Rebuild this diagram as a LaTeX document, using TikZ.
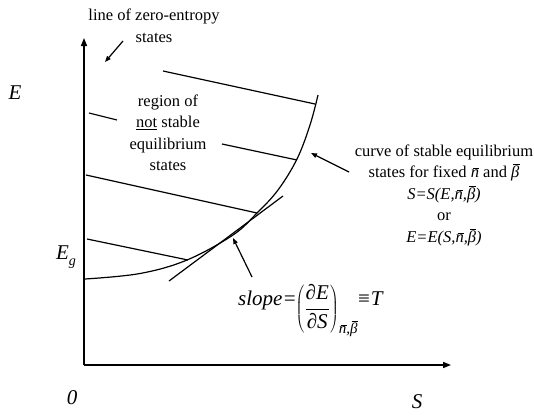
\documentclass[tikz,border=0pt]{standalone}
\usepackage{fontspec}
\setmainfont{Liberation Serif}
\usetikzlibrary{arrows.meta}
\newcommand\ob[1]{\setbox0\hbox{#1}\rlap{\kern0.12em\raisebox{\dimexpr\ht0+0.9pt\relax}{\rule{\dimexpr\wd0-0.1em\relax}{0.7pt}}}\box0}
\tikzset{
  txt/.style={font=\fontsize{16.5}{21.5}\selectfont, align=center, inner sep=0pt},
  lbl/.style={font=\fontsize{21}{24}\selectfont\itshape, inner sep=0pt},
  sline/.style={line width=1.2pt},
  axisline/.style={line width=1.5pt, -{Triangle[length=8pt,width=6pt]}},
  ptr/.style={line width=1.2pt, -{Triangle[length=6pt,width=4.5pt]}},
}
\begin{document}
\begin{tikzpicture}[x=1pt,y=-1pt]
\useasboundingbox (0,0) rectangle (534,415);
% axes
\coordinate (O) at (84,365);
\coordinate (Ytop) at (84,38);
\coordinate (Xend) at (451,365);
\draw[axisline] (O) -- (Ytop);
\draw[axisline] (O) -- (Xend);
% labels
\node[lbl] (E) at (15,93) {E};
\node[lbl] (zero) at (72,398) {0};
\node[lbl] (S) at (417,402) {S};
\node[inner sep=0pt, font=\fontsize{21}{24}\selectfont\itshape] (Eg) at (66,257) {E\raisebox{-6pt}{\fontsize{14}{14}\selectfont g}};
% curve of stable equilibrium states
\draw[sline] plot[smooth, tension=0.6] coordinates {(85,279) (140,273.5) (187,260) (233,235) (257,213) (278,190) (297,159) (310,125) (318,95)};
% lines of constant ...
\coordinate (a1) at (163,71);   \coordinate (b1) at (315,104);
\coordinate (a2) at (89,113);   \coordinate (b2) at (117,120);
\coordinate (a3) at (222,144);  \coordinate (b3) at (297,160);
\coordinate (a4) at (86,175);   \coordinate (b4) at (257,213);
\coordinate (a5) at (87,239);   \coordinate (b5) at (188,260);
\draw[sline] (a1) -- (b1);
\draw[sline] (a2) -- (b2);
\draw[sline] (a3) -- (b3);
\draw[sline] (a4) -- (b4);
\draw[sline] (a5) -- (b5);
% tangent
\coordinate (t1) at (169,281);
\coordinate (t2) at (283,196);
\draw[sline] (t1) -- (t2);
% texts
\node[txt] (zeroline) at (154,26) {line of zero-entropy\\states};
\node[txt] (region) at (168,133) {region of\\\underline{not} stable\\equilibrium\\states};
\node[txt] (curvelbl) at (444,195) {curve of stable equilibrium\\states for fixed \textit{\ob{n}} and \textit{\ob{β}}\\\textit{S=S(E,\ob{n},\ob{β})}\\or\\\textit{E=E(S,\ob{n},\ob{β})}};
\node[inner sep=0pt, anchor=base west, font=\fontsize{21}{24}\selectfont] (slope) at (238,305) {\itshape slope=\kern-1pt\raisebox{-9pt}{$\left({\displaystyle\frac{\hbox{\itshape ∂E}}{\hbox{\itshape ∂S}}}\right)_{\hbox{\fontsize{15}{15}\selectfont\itshape \ob{n},\ob{β}}}$}\kern0pt{\upshape ≡}\kern1pt T};
% pointers
\coordinate (p1s) at (123,41);  \coordinate (p1e) at (105,62);
\coordinate (p2s) at (349,172); \coordinate (p2e) at (311,153);
\coordinate (p3s) at (252,277); \coordinate (p3e) at (233,238);
\draw[ptr] (p1s) -- (p1e);
\draw[ptr] (p2s) -- (p2e);
\draw[ptr] (p3s) -- (p3e);
\end{tikzpicture}
\end{document}
